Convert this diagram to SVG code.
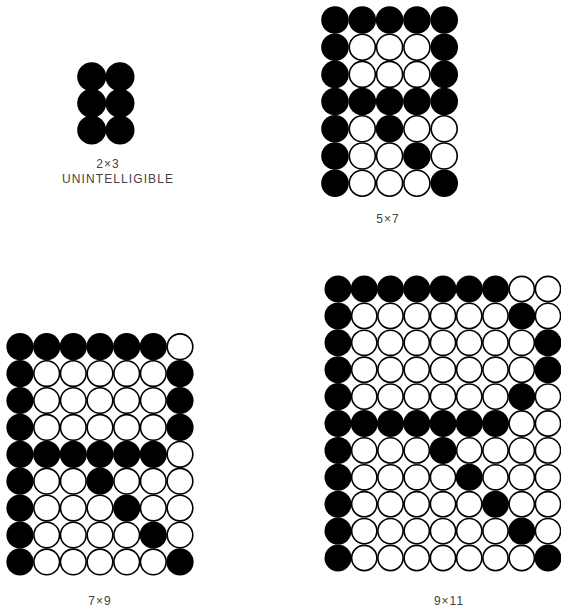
<svg xmlns="http://www.w3.org/2000/svg" width="561" height="612" viewBox="0 0 561 612">
<style>
.b{fill:#000}
.w{fill:#fff;stroke:#000;stroke-width:1.6}
.lbl{font-family:"Liberation Sans",Arial,sans-serif;font-size:12px;fill:#444;text-anchor:middle;letter-spacing:1px}
</style>
<rect width="561" height="612" fill="#fff"/>
<g id="grid-2x3">
<g class="b">
<circle cx="91.7" cy="76.7" r="14.5"/><circle cx="120" cy="76.7" r="14.5"/>
<circle cx="91.7" cy="103.3" r="14.5"/><circle cx="120" cy="103.3" r="14.5"/>
<circle cx="91.7" cy="130" r="14.5"/><circle cx="120" cy="130" r="14.5"/>
</g>
<text class="lbl" x="108" y="168">2×3</text>
<text class="lbl" x="118" y="183" font-size="11" textLength="112" lengthAdjust="spacing">UNINTELLIGIBLE</text>
</g>
<g id="grid-5x7">
<g class="b">
<circle cx="335" cy="20" r="13.8"/><circle cx="362.3" cy="20" r="13.8"/><circle cx="389.6" cy="20" r="13.8"/><circle cx="416.9" cy="20" r="13.8"/><circle cx="444.2" cy="20" r="13.8"/>
<circle cx="335" cy="47.2" r="13.8"/><circle cx="444.2" cy="47.2" r="13.8"/>
<circle cx="335" cy="74.4" r="13.8"/><circle cx="444.2" cy="74.4" r="13.8"/>
<circle cx="335" cy="101.6" r="13.8"/><circle cx="362.3" cy="101.6" r="13.8"/><circle cx="389.6" cy="101.6" r="13.8"/><circle cx="416.9" cy="101.6" r="13.8"/><circle cx="444.2" cy="101.6" r="13.8"/>
<circle cx="335" cy="128.8" r="13.8"/><circle cx="389.6" cy="128.8" r="13.8"/>
<circle cx="335" cy="156" r="13.8"/><circle cx="416.9" cy="156" r="13.8"/>
<circle cx="335" cy="183.2" r="13.8"/><circle cx="444.2" cy="183.2" r="13.8"/>
</g>
<g class="w">
<circle cx="362.3" cy="47.2" r="13"/><circle cx="389.6" cy="47.2" r="13"/><circle cx="416.9" cy="47.2" r="13"/>
<circle cx="362.3" cy="74.4" r="13"/><circle cx="389.6" cy="74.4" r="13"/><circle cx="416.9" cy="74.4" r="13"/>
<circle cx="362.3" cy="128.8" r="13"/><circle cx="416.9" cy="128.8" r="13"/><circle cx="444.2" cy="128.8" r="13"/>
<circle cx="362.3" cy="156" r="13"/><circle cx="389.6" cy="156" r="13"/><circle cx="444.2" cy="156" r="13"/>
<circle cx="362.3" cy="183.2" r="13"/><circle cx="389.6" cy="183.2" r="13"/><circle cx="416.9" cy="183.2" r="13"/>
</g>
<text class="lbl" x="388" y="223">5×7</text>
</g>
<g id="grid-7x9">
<g class="b">
<circle cx="20" cy="346.7" r="13.6"/><circle cx="46.7" cy="346.7" r="13.6"/><circle cx="73.3" cy="346.7" r="13.6"/><circle cx="100" cy="346.7" r="13.6"/><circle cx="126.7" cy="346.7" r="13.6"/><circle cx="153.3" cy="346.7" r="13.6"/>
<circle cx="20" cy="373.6" r="13.6"/><circle cx="180" cy="373.6" r="13.6"/>
<circle cx="20" cy="400.5" r="13.6"/><circle cx="180" cy="400.5" r="13.6"/>
<circle cx="20" cy="427.4" r="13.6"/><circle cx="180" cy="427.4" r="13.6"/>
<circle cx="20" cy="454.3" r="13.6"/><circle cx="46.7" cy="454.3" r="13.6"/><circle cx="73.3" cy="454.3" r="13.6"/><circle cx="100" cy="454.3" r="13.6"/><circle cx="126.7" cy="454.3" r="13.6"/><circle cx="153.3" cy="454.3" r="13.6"/>
<circle cx="20" cy="481.2" r="13.6"/><circle cx="100" cy="481.2" r="13.6"/>
<circle cx="20" cy="508.1" r="13.6"/><circle cx="126.7" cy="508.1" r="13.6"/>
<circle cx="20" cy="535" r="13.6"/><circle cx="153.3" cy="535" r="13.6"/>
<circle cx="20" cy="561.9" r="13.6"/><circle cx="180" cy="561.9" r="13.6"/>
</g>
<g class="w">
<circle cx="180" cy="346.7" r="12.8"/>
<circle cx="46.7" cy="373.6" r="12.8"/><circle cx="73.3" cy="373.6" r="12.8"/><circle cx="100" cy="373.6" r="12.8"/><circle cx="126.7" cy="373.6" r="12.8"/><circle cx="153.3" cy="373.6" r="12.8"/>
<circle cx="46.7" cy="400.5" r="12.8"/><circle cx="73.3" cy="400.5" r="12.8"/><circle cx="100" cy="400.5" r="12.8"/><circle cx="126.7" cy="400.5" r="12.8"/><circle cx="153.3" cy="400.5" r="12.8"/>
<circle cx="46.7" cy="427.4" r="12.8"/><circle cx="73.3" cy="427.4" r="12.8"/><circle cx="100" cy="427.4" r="12.8"/><circle cx="126.7" cy="427.4" r="12.8"/><circle cx="153.3" cy="427.4" r="12.8"/>
<circle cx="180" cy="454.3" r="12.8"/>
<circle cx="46.7" cy="481.2" r="12.8"/><circle cx="73.3" cy="481.2" r="12.8"/><circle cx="126.7" cy="481.2" r="12.8"/><circle cx="153.3" cy="481.2" r="12.8"/><circle cx="180" cy="481.2" r="12.8"/>
<circle cx="46.7" cy="508.1" r="12.8"/><circle cx="73.3" cy="508.1" r="12.8"/><circle cx="100" cy="508.1" r="12.8"/><circle cx="153.3" cy="508.1" r="12.8"/><circle cx="180" cy="508.1" r="12.8"/>
<circle cx="46.7" cy="535" r="12.8"/><circle cx="73.3" cy="535" r="12.8"/><circle cx="100" cy="535" r="12.8"/><circle cx="126.7" cy="535" r="12.8"/><circle cx="180" cy="535" r="12.8"/>
<circle cx="46.7" cy="561.9" r="12.8"/><circle cx="73.3" cy="561.9" r="12.8"/><circle cx="100" cy="561.9" r="12.8"/><circle cx="126.7" cy="561.9" r="12.8"/><circle cx="153.3" cy="561.9" r="12.8"/>
</g>
<text class="lbl" x="100" y="605">7×9</text>
</g>
<g id="grid-9x11">
<g class="b">
<circle cx="338" cy="289" r="13.5"/><circle cx="364.25" cy="289" r="13.5"/><circle cx="390.5" cy="289" r="13.5"/><circle cx="416.75" cy="289" r="13.5"/><circle cx="443" cy="289" r="13.5"/><circle cx="469.25" cy="289" r="13.5"/><circle cx="495.5" cy="289" r="13.5"/>
<circle cx="338" cy="315.9" r="13.5"/><circle cx="521.75" cy="315.9" r="13.5"/>
<circle cx="338" cy="342.8" r="13.5"/><circle cx="548" cy="342.8" r="13.5"/>
<circle cx="338" cy="369.7" r="13.5"/><circle cx="548" cy="369.7" r="13.5"/>
<circle cx="338" cy="396.6" r="13.5"/><circle cx="521.75" cy="396.6" r="13.5"/>
<circle cx="338" cy="423.5" r="13.5"/><circle cx="364.25" cy="423.5" r="13.5"/><circle cx="390.5" cy="423.5" r="13.5"/><circle cx="416.75" cy="423.5" r="13.5"/><circle cx="443" cy="423.5" r="13.5"/><circle cx="469.25" cy="423.5" r="13.5"/><circle cx="495.5" cy="423.5" r="13.5"/>
<circle cx="338" cy="450.4" r="13.5"/><circle cx="443" cy="450.4" r="13.5"/>
<circle cx="338" cy="477.3" r="13.5"/><circle cx="469.25" cy="477.3" r="13.5"/>
<circle cx="338" cy="504.2" r="13.5"/><circle cx="495.5" cy="504.2" r="13.5"/>
<circle cx="338" cy="531.1" r="13.5"/><circle cx="521.75" cy="531.1" r="13.5"/>
<circle cx="338" cy="558" r="13.5"/><circle cx="548" cy="558" r="13.5"/>
</g>
<g class="w">
<circle cx="521.75" cy="289" r="12.6"/><circle cx="548" cy="289" r="12.6"/>
<circle cx="364.25" cy="315.9" r="12.6"/><circle cx="390.5" cy="315.9" r="12.6"/><circle cx="416.75" cy="315.9" r="12.6"/><circle cx="443" cy="315.9" r="12.6"/><circle cx="469.25" cy="315.9" r="12.6"/><circle cx="495.5" cy="315.9" r="12.6"/><circle cx="548" cy="315.9" r="12.6"/>
<circle cx="364.25" cy="342.8" r="12.6"/><circle cx="390.5" cy="342.8" r="12.6"/><circle cx="416.75" cy="342.8" r="12.6"/><circle cx="443" cy="342.8" r="12.6"/><circle cx="469.25" cy="342.8" r="12.6"/><circle cx="495.5" cy="342.8" r="12.6"/><circle cx="521.75" cy="342.8" r="12.6"/>
<circle cx="364.25" cy="369.7" r="12.6"/><circle cx="390.5" cy="369.7" r="12.6"/><circle cx="416.75" cy="369.7" r="12.6"/><circle cx="443" cy="369.7" r="12.6"/><circle cx="469.25" cy="369.7" r="12.6"/><circle cx="495.5" cy="369.7" r="12.6"/><circle cx="521.75" cy="369.7" r="12.6"/>
<circle cx="364.25" cy="396.6" r="12.6"/><circle cx="390.5" cy="396.6" r="12.6"/><circle cx="416.75" cy="396.6" r="12.6"/><circle cx="443" cy="396.6" r="12.6"/><circle cx="469.25" cy="396.6" r="12.6"/><circle cx="495.5" cy="396.6" r="12.6"/><circle cx="548" cy="396.6" r="12.6"/>
<circle cx="521.75" cy="423.5" r="12.6"/><circle cx="548" cy="423.5" r="12.6"/>
<circle cx="364.25" cy="450.4" r="12.6"/><circle cx="390.5" cy="450.4" r="12.6"/><circle cx="416.75" cy="450.4" r="12.6"/><circle cx="469.25" cy="450.4" r="12.6"/><circle cx="495.5" cy="450.4" r="12.6"/><circle cx="521.75" cy="450.4" r="12.6"/><circle cx="548" cy="450.4" r="12.6"/>
<circle cx="364.25" cy="477.3" r="12.6"/><circle cx="390.5" cy="477.3" r="12.6"/><circle cx="416.75" cy="477.3" r="12.6"/><circle cx="443" cy="477.3" r="12.6"/><circle cx="495.5" cy="477.3" r="12.6"/><circle cx="521.75" cy="477.3" r="12.6"/><circle cx="548" cy="477.3" r="12.6"/>
<circle cx="364.25" cy="504.2" r="12.6"/><circle cx="390.5" cy="504.2" r="12.6"/><circle cx="416.75" cy="504.2" r="12.6"/><circle cx="443" cy="504.2" r="12.6"/><circle cx="469.25" cy="504.2" r="12.6"/><circle cx="521.75" cy="504.2" r="12.6"/><circle cx="548" cy="504.2" r="12.6"/>
<circle cx="364.25" cy="531.1" r="12.6"/><circle cx="390.5" cy="531.1" r="12.6"/><circle cx="416.75" cy="531.1" r="12.6"/><circle cx="443" cy="531.1" r="12.6"/><circle cx="469.25" cy="531.1" r="12.6"/><circle cx="495.5" cy="531.1" r="12.6"/><circle cx="548" cy="531.1" r="12.6"/>
<circle cx="364.25" cy="558" r="12.6"/><circle cx="390.5" cy="558" r="12.6"/><circle cx="416.75" cy="558" r="12.6"/><circle cx="443" cy="558" r="12.6"/><circle cx="469.25" cy="558" r="12.6"/><circle cx="495.5" cy="558" r="12.6"/><circle cx="521.75" cy="558" r="12.6"/>
</g>
<text class="lbl" x="449" y="605">9×11</text>
</g>
</svg>
